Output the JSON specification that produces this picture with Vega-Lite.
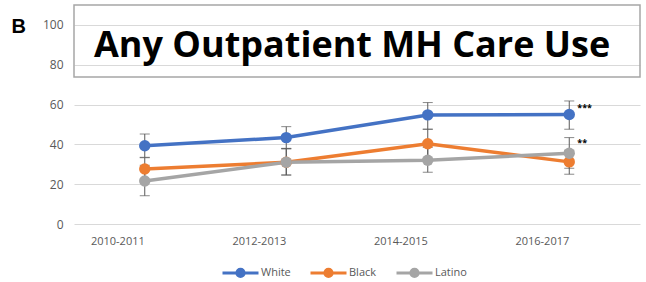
{
  "$schema": "https://vega.github.io/schema/vega-lite/v6.json",
  "width": 566,
  "height": 219,
  "autosize": {"type": "none"},
  "padding": {"left": 74, "top": 5, "right": 6, "bottom": 58},
  "background": "white",
  "config": {
    "view": {"stroke": null},
    "font": "Open Sans"
  },
  "datasets": {
    "series": [
      {"period": "2010-2011", "group": "White", "value": 39.3, "lo": 33.5, "hi": 45.2},
      {"period": "2012-2013", "group": "White", "value": 43.4, "lo": 38.0, "hi": 48.9},
      {"period": "2014-2015", "group": "White", "value": 54.8, "lo": 47.6, "hi": 61.0},
      {"period": "2016-2017", "group": "White", "value": 55.0, "lo": 47.6, "hi": 61.8},
      {"period": "2010-2011", "group": "Black", "value": 27.6, "lo": 22.0, "hi": 33.3},
      {"period": "2012-2013", "group": "Black", "value": 31.0, "lo": 24.6, "hi": 37.8},
      {"period": "2014-2015", "group": "Black", "value": 40.3, "lo": 33.0, "hi": 47.6},
      {"period": "2016-2017", "group": "Black", "value": 31.2, "lo": 25.0, "hi": 37.0},
      {"period": "2010-2011", "group": "Latino", "value": 21.6, "lo": 14.2, "hi": 29.5},
      {"period": "2012-2013", "group": "Latino", "value": 31.0, "lo": 24.6, "hi": 37.8},
      {"period": "2014-2015", "group": "Latino", "value": 32.0, "lo": 26.0, "hi": 38.5},
      {"period": "2016-2017", "group": "Latino", "value": 35.5, "lo": 28.0, "hi": 43.4}
    ],
    "stars": [
      {"period": "2016-2017", "value": 58.5, "label": "***"},
      {"period": "2016-2017", "value": 40.5, "label": "**"}
    ],
    "box": [
      {"lo": 73.8, "hi": 110, "label": "Any Outpatient MH Care Use", "period": "2010-2011", "ty": 89.6}
    ]
  },
  "layer": [
    {
      "data": {"name": "box"},
      "mark": {"type": "rect", "fill": null, "stroke": "#a6a6a6", "strokeWidth": 1.5},
      "encoding": {
        "y": {"field": "lo", "type": "quantitative", "title": "B", "scale": {"domain": [0, 110]}},
        "y2": {"field": "hi"}
      }
    },
    {
      "data": {"name": "series"},
      "mark": {"type": "errorbar", "ticks": {"size": 10, "color": "#595959", "strokeWidth": 1}, "rule": {"color": "#595959", "strokeWidth": 1}},
      "encoding": {
        "x": {"field": "period", "type": "nominal", "title": null},
        "y": {"field": "lo", "type": "quantitative", "title": "B"},
        "y2": {"field": "hi"},
        "detail": {"field": "group"}
      }
    },
    {
      "data": {"name": "series"},
      "mark": {"type": "line", "strokeWidth": 3.5},
      "encoding": {
        "x": {"field": "period", "type": "nominal", "title": null},
        "y": {"field": "value", "type": "quantitative", "title": "B"},
        "color": {"field": "group", "type": "nominal"}
      }
    },
    {
      "data": {"name": "series"},
      "mark": {"type": "point", "filled": true, "size": 130, "opacity": 1},
      "encoding": {
        "x": {
          "field": "period", "type": "nominal",
          "scale": {"paddingInner": 0, "paddingOuter": 0},
          "axis": {"title": null, "labelAngle": 0, "domain": false, "ticks": false, "labelPadding": 17, "labelFontSize": 11, "labelColor": "#595959", "labelFont": "Open Sans"}
        },
        "y": {
          "field": "value", "type": "quantitative",
          "title": "B",
          "scale": {"domain": [0, 110], "nice": false},
          "axis": {
            "values": [0, 20, 40, 60, 80, 100],
            "domain": false, "ticks": false, "labelPadding": 11,
            "labelFontSize": 12, "labelColor": "#595959",
            "gridColor": "#d9d9d9", "gridWidth": 1,
            "titleAngle": 0, "titleFontSize": 20, "titleFont": "Liberation Sans",
            "titleFontWeight": "bold", "titleColor": "#000000",
            "titleX": -63, "titleY": 21, "titleAlign": "left", "titleBaseline": "middle"
          }
        },
        "color": {
          "field": "group", "type": "nominal",
          "scale": {"domain": ["White", "Black", "Latino"], "range": ["#4472c4", "#ed7d31", "#a5a5a5"]},
          "legend": {
            "title": null, "orient": "none", "direction": "horizontal",
            "legendX": 147, "legendY": 248,
            "symbolType": "M-1,0H1M-0.2,0A0.2,0.2 0 1,1 0.2,0A0.2,0.2 0 1,1 -0.2,0",
            "symbolSize": 1296, "symbolStrokeWidth": 3,
            "labelFontSize": 11, "labelColor": "#595959", "columnPadding": 13, "labelOffset": 1
          }
        }
      }
    },
    {
      "data": {"name": "stars"},
      "mark": {"type": "text", "dx": 8, "align": "left", "baseline": "middle", "fontSize": 9, "fontWeight": "bold", "color": "#000000"},
      "encoding": {
        "x": {"field": "period", "type": "nominal"},
        "y": {"field": "value", "type": "quantitative"},
        "text": {"field": "label"}
      }
    },
    {
      "data": {"name": "box"},
      "mark": {"type": "text", "align": "left", "baseline": "middle", "dx": 20, "fontSize": 36, "fontWeight": "bold", "font": "Open Sans", "color": "#000000"},
      "encoding": {
        "x": {"field": "period", "type": "nominal", "bandPosition": 0},
        "y": {"field": "ty", "type": "quantitative"},
        "text": {"field": "label"}
      }
    }
  ]
}
